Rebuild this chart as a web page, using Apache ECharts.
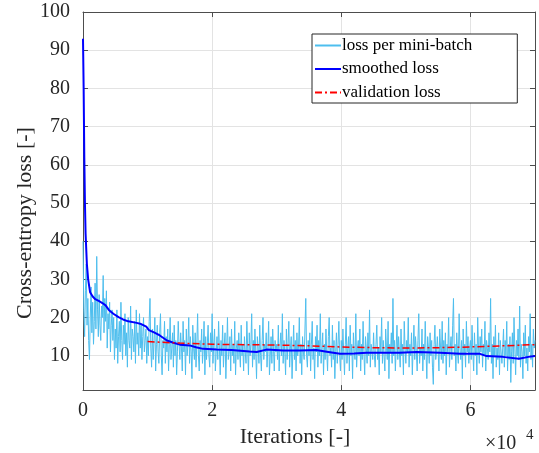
<!DOCTYPE html>
<html>
<head>
<meta charset="utf-8">
<script src="https://cdn.jsdelivr.net/npm/echarts@6/dist/echarts.min.js"></script>
<style>html,body{margin:0;padding:0;background:#fff}#chart{width:539px;height:453px}</style>
</head>
<body>
<div id="chart"></div>
<script>
// mini-batch loss, sampled every 125 iterations from 0 to 70000 (one row = 5000 iterations)
const batchStep = 125;
const batchLoss = [
  40, 22, 15, 27, 34, 18, 25, 14, 9, 20, 28, 16, 24, 13, 19, 29, 17, 36, 22, 15, 26, 18, 14, 23, 20, 31, 16, 25, 19, 27, 12, 21, 17, 24, 11, 18, 22, 14, 20, 9,
  17, 12, 22, 8, 15, 19, 11, 24, 14, 9, 18, 13, 21, 10, 16, 7, 20, 14, 12, 23, 9, 17, 15, 11, 19, 8, 22, 13, 16, 10, 21, 12, 18, 9, 15, 20, 11, 14, 17, 8,
  15, 10, 19, 25, 12, 7, 17, 9, 14, 20, 6, 13, 18, 11, 8, 16, 21, 10, 5, 14, 12, 19, 8, 15, 11, 17, 6, 13, 20, 9, 12, 16, 7, 18, 10, 14, 5, 11, 19, 13,
  9, 16, 12, 6, 19, 11, 14, 5, 17, 10, 13, 20, 8, 15, 11, 4, 18, 12, 9, 16, 7, 13, 21, 10, 6, 14, 11, 17, 8, 12, 19, 5, 15, 9, 13, 18, 10, 7, 16, 11,
  21, 8, 13, 17, 6, 11, 15, 9, 19, 12, 5, 14, 10, 18, 7, 13, 16, 4, 12, 20, 9, 11, 15, 6, 17, 10, 13, 8, 19, 5, 12, 14, 9, 16, 11, 7, 18, 10, 13, 6,
  15, 11, 8, 19, 12, 5, 16, 10, 13, 21, 7, 14, 9, 17, 11, 4, 15, 12, 8, 18, 10, 6, 14, 20, 9, 13, 11, 16, 7, 12, 19, 5, 10, 15, 8, 17, 12, 6, 14, 11,
  13, 9, 18, 6, 12, 16, 10, 21, 8, 14, 11, 5, 17, 9, 13, 19, 7, 12, 15, 4, 11, 18, 9, 14, 6, 16, 10, 12, 20, 8, 13, 5, 15, 11, 9, 17, 25, 10, 7, 14,
  10, 16, 6, 13, 19, 9, 12, 4, 15, 11, 18, 7, 14, 10, 21, 8, 12, 16, 5, 13, 9, 17, 11, 6, 15, 20, 10, 12, 7, 18, 9, 14, 4, 11, 16, 8, 13, 19, 10, 6,
  14, 9, 17, 11, 5, 13, 20, 8, 12, 15, 6, 18, 10, 13, 4, 16, 11, 9, 21, 7, 12, 14, 10, 17, 6, 13, 9, 19, 11, 5, 15, 12, 8, 16, 10, 22, 7, 13, 11, 9,
  16, 10, 7, 13, 18, 9, 12, 5, 15, 11, 20, 8, 14, 10, 6, 17, 12, 9, 19, 4, 13, 11, 16, 8, 25, 10, 14, 6, 12, 18, 9, 15, 11, 7, 17, 10, 13, 5, 19, 12,
  8, 14, 11, 20, 7, 13, 10, 16, 5, 12, 18, 9, 15, 11, 6, 14, 21, 8, 12, 10, 17, 6, 13, 9, 19, 11, 4, 15, 12, 8, 16, 10, 14, 7, 2.5, 13, 18, 9, 11, 15,
  11, 6, 17, 12, 9, 19, 8, 14, 10, 16, 5, 13, 11, 20, 7, 12, 15, 9, 18, 25, 10, 13, 6, 16, 11, 8, 21, 12, 9, 14, 4, 17, 10, 13, 7, 19, 11, 15, 8, 12,
  14, 9, 18, 11, 6, 16, 10, 13, 5, 20, 12, 8, 15, 11, 17, 7, 13, 10, 19, 6, 14, 12, 9, 16, 11, 25, 8, 13, 4, 15, 10, 18, 7, 12, 9, 16, 5, 14, 11, 8,
  12, 17, 7, 14, 10, 19, 6, 13, 9, 15, 3, 11, 16, 8, 20, 12, 5, 14, 10, 17, 9, 23, 7, 13, 11, 4, 16, 10, 18, 8, 12, 6, 15, 11, 21, 9, 13, 7, 17, 12,
  14
];
const smoothIter = [0, 100, 200, 300, 400, 600, 800, 1100, 1500, 1900, 2500, 3000, 3500, 4000, 4700, 5500, 6200, 7000, 8300, 9000, 9800, 10200, 11000, 11900, 13000, 14000, 15000, 16500, 17500, 18600, 20700, 23000, 25800, 26900, 28400, 31000, 33600, 36100, 38000, 39800, 42000, 43900, 49000, 51700, 55300, 58400, 61500, 62500, 65000, 67500, 69000, 70000];
const smoothLoss = [93, 80, 62, 50, 42, 34, 30, 26.6, 25.5, 24.8, 24.3, 23.8, 23.2, 22, 21, 20.1, 19.5, 19.0, 18.6, 18.3, 17.6, 16.7, 16.1, 15.3, 14.0, 13.4, 12.9, 12.7, 12.2, 11.8, 11.6, 11.5, 11.1, 11.0, 11.6, 11.4, 11.4, 11.5, 11.0, 10.5, 10.6, 10.8, 10.8, 11.0, 10.8, 10.5, 10.5, 9.9, 9.7, 9.2, 9.7, 9.9];
const valIter = [10000, 15000, 20000, 25000, 30000, 35000, 40000, 45000, 50000, 55000, 60000, 65000, 70000];
const valLoss = [13.7, 13.3, 13.0, 12.9, 12.8, 12.6, 12.3, 12.1, 12.0, 12.1, 12.3, 12.6, 12.9];
const yTicks = [10, 20, 30, 40, 50, 60, 70, 80, 90, 100];
const xTicks = [0, 20000, 40000, 60000];
const xLabelScale = 10000;

const FONT = '"Liberation Serif", "Times New Roman", serif';
const TXT = '#262626';
const AX = '#4d4d4d';
const GRIDC = '#e3e3e3';

const chart = echarts.init(document.getElementById('chart'));
const batchData = batchLoss.map((v, i) => [i * batchStep, v]);
const smoothData = smoothIter.map((x, i) => [x, smoothLoss[i]]);
const valData = valIter.map((x, i) => [x, valLoss[i]]);

const tickStyle = { show: true, inside: true, length: 5, lineStyle: { color: AX, width: 1 } };

chart.setOption({
  animation: false,
  backgroundColor: '#fff',
  grid: { left: 83, top: 12, width: 452, height: 380, containLabel: false },
  xAxis: [{
    type: 'value', min: 0, max: 70000, position: 'bottom',
    name: 'Iterations [-]', nameLocation: 'middle', nameGap: 35,
    nameTextStyle: { fontFamily: FONT, fontSize: 22, color: TXT, padding: [0, 28, 0, 0] },
    axisLine: { show: true, onZero: false, lineStyle: { color: AX, width: 1 } },
    axisTick: Object.assign({ customValues: xTicks }, tickStyle),
    axisLabel: { customValues: xTicks, formatter: v => String(v / xLabelScale), fontFamily: FONT, fontSize: 20, color: TXT, margin: 11 },
    splitLine: { show: true, lineStyle: { color: GRIDC, width: 1 } }
  }, {
    type: 'value', min: 0, max: 70000, position: 'top',
    axisLine: { show: true, onZero: false, lineStyle: { color: AX, width: 1 } },
    axisTick: Object.assign({ customValues: xTicks }, tickStyle),
    axisLabel: { show: false },
    splitLine: { show: false }
  }],
  yAxis: [{
    type: 'value', min: 1, max: 100, position: 'left',
    name: 'Cross-entropy loss [-]', nameLocation: 'middle', nameGap: 47, nameMoveOverlap: false,
    nameTextStyle: { fontFamily: FONT, fontSize: 22, color: TXT, padding: [0, 44, 0, 0] },
    axisLine: { show: true, onZero: false, lineStyle: { color: AX, width: 1 } },
    axisTick: Object.assign({ customValues: yTicks }, tickStyle),
    axisLabel: { customValues: yTicks, fontFamily: FONT, fontSize: 20, color: TXT, margin: 13 },
    splitLine: { show: true, lineStyle: { color: GRIDC, width: 1 } }
  }, {
    type: 'value', min: 1, max: 100, position: 'right',
    axisLine: { show: true, onZero: false, lineStyle: { color: AX, width: 1 } },
    axisTick: Object.assign({ customValues: yTicks }, tickStyle),
    axisLabel: { show: false },
    splitLine: { show: false }
  }],
  legend: {
    orient: 'vertical', left: 312, top: 34,
    padding: [3, 45, 2, 2],
    itemWidth: 26, itemHeight: 14, itemGap: 6.5,
    backgroundColor: '#fff', borderColor: '#262626', borderWidth: 1,
    itemStyle: { opacity: 0 },
    textStyle: { fontFamily: FONT, fontSize: 17, color: '#000', padding: [0, 0, 0, -4] },
    data: ['loss per mini-batch', 'smoothed loss', 'validation loss']
  },
  series: [{
    name: 'loss per mini-batch', type: 'line', data: batchData, symbol: 'none',
    lineStyle: { color: '#4DBEEE', width: 1 }, itemStyle: { color: '#4DBEEE' }, z: 2
  }, {
    name: 'smoothed loss', type: 'line', data: smoothData, symbol: 'none',
    lineStyle: { color: '#0000FF', width: 2 }, itemStyle: { color: '#0000FF' }, z: 3
  }, {
    name: 'validation loss', type: 'line', data: valData, symbol: 'none',
    lineStyle: { color: '#FF0000', width: 1.5, type: [7, 3, 2, 3] }, itemStyle: { color: '#FF0000' }, z: 4
  }],
  graphic: [{
    type: 'text', left: 485, top: 434,
    style: { text: '×10', font: '20px ' + FONT, fill: TXT }
  }, {
    type: 'text', left: 526, top: 428,
    style: { text: '4', font: '15px ' + FONT, fill: TXT }
  }]
});
</script>
</body>
</html>
